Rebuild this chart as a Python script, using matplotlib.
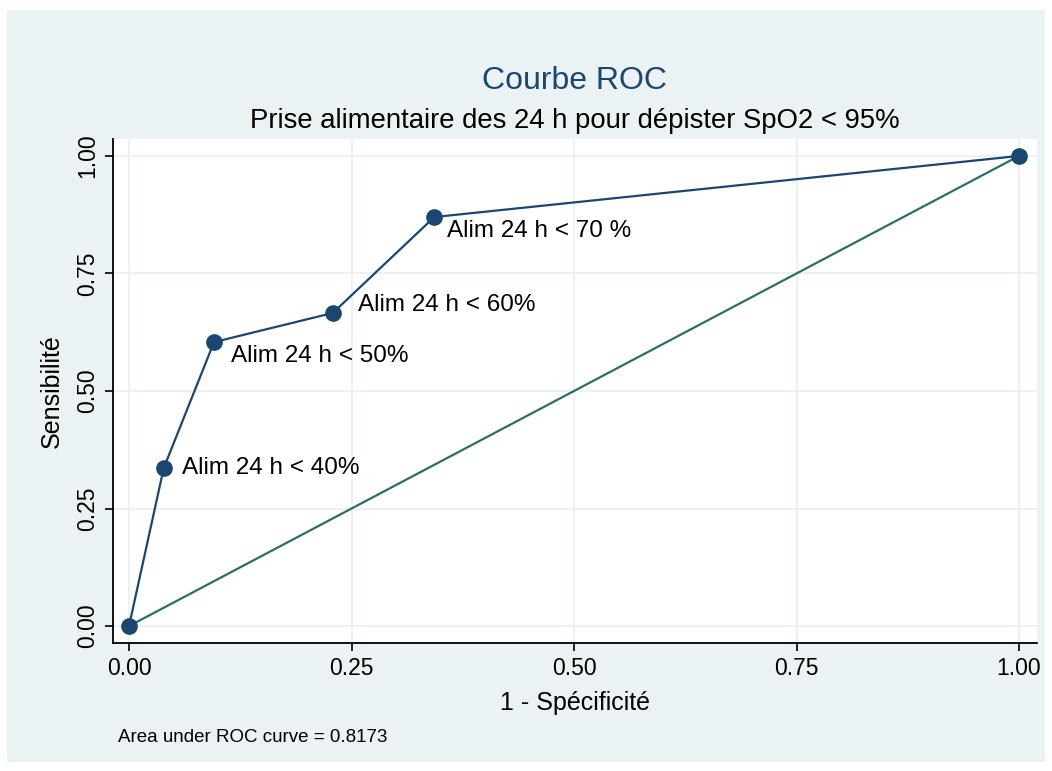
"""ROC curve: 24 h food intake to screen SpO2 < 95%."""

import matplotlib

matplotlib.use("Agg")
import matplotlib.pyplot as plt

# data
fpr = [0.0, 0.039, 0.0955, 0.229, 0.343, 1.0]
tpr = [0.0, 0.336, 0.604, 0.666, 0.870, 1.0]
cut_labels = ["", "Alim 24 h < 40%", "Alim 24 h < 50%", "Alim 24 h < 60%", "Alim 24 h < 70 %", ""]
label_offsets = [(13, 0), (13, 0), (12, -10), (18, 6), (9, -10), (0, 0)]
ticks = [0.0, 0.25, 0.5, 0.75, 1.0]
tick_labels = ["0.00", "0.25", "0.50", "0.75", "1.00"]
auc = 0.8173

BG = "#EAF2F3"
NAVY = "#1A476F"
GREEN = "#2D6D66"

plt.rcParams["font.family"] = ["Liberation Sans", "DejaVu Sans"]

fig = plt.figure(figsize=(10.52, 7.71), dpi=100)
fig.patch.set_facecolor("white")
# light panel behind everything
panel = plt.Rectangle((7 / 1052, 9 / 771), 1038 / 1052, 752 / 771,
                      transform=fig.transFigure, facecolor=BG,
                      edgecolor="none", zorder=-10)
fig.patches.append(panel)

ax = fig.add_axes([113 / 1052, 1 - 643 / 771, 924 / 1052, 504 / 771])
ax.set_facecolor("white")
ax.set_xlim(-0.018, 1.0202)
ax.set_ylim(-0.036, 1.036)

ax.plot([0, 1], [0, 1], color=GREEN, lw=1.6, zorder=2)
ax.plot(fpr, tpr, color=NAVY, lw=1.6, marker="o", ms=11, zorder=3)

for x, y, lab, (dx, dy) in zip(fpr, tpr, cut_labels, label_offsets):
    if lab:
        ax.annotate(lab, (x, y), xytext=(dx, dy), textcoords="offset points",
                    ha="left", va="center", fontsize=17.5)

ax.set_xticks(ticks)
ax.set_xticklabels(tick_labels)
ax.set_yticks(ticks)
ax.set_yticklabels(tick_labels, rotation=90, va="center")
ax.tick_params(labelsize=16.5, length=6, width=1.2, direction="out", pad=4)
ax.grid(True, color=BG, lw=1.5)
ax.set_axisbelow(True)

for side in ("top", "right"):
    ax.spines[side].set_visible(False)
for side in ("left", "bottom"):
    ax.spines[side].set_linewidth(1.3)

ax.set_xlabel("1 - Spécificité", fontsize=18, labelpad=8)
ax.set_ylabel("Sensibilité", fontsize=18, labelpad=9)

fig.text(575 / 1052, 1 - 81 / 771, "Courbe ROC", ha="center", va="center",
         fontsize=23, color=NAVY)
fig.text(575 / 1052, 1 - 121 / 771, "Prise alimentaire des 24 h pour dépister SpO2 < 95%",
         ha="center", va="center", fontsize=19.8)
fig.text(118 / 1052, 1 - 737 / 771, f"Area under ROC curve = {auc:.4f}",
         ha="left", va="center", fontsize=13.5)

fig.savefig("out.png", dpi=100, facecolor=fig.get_facecolor())
